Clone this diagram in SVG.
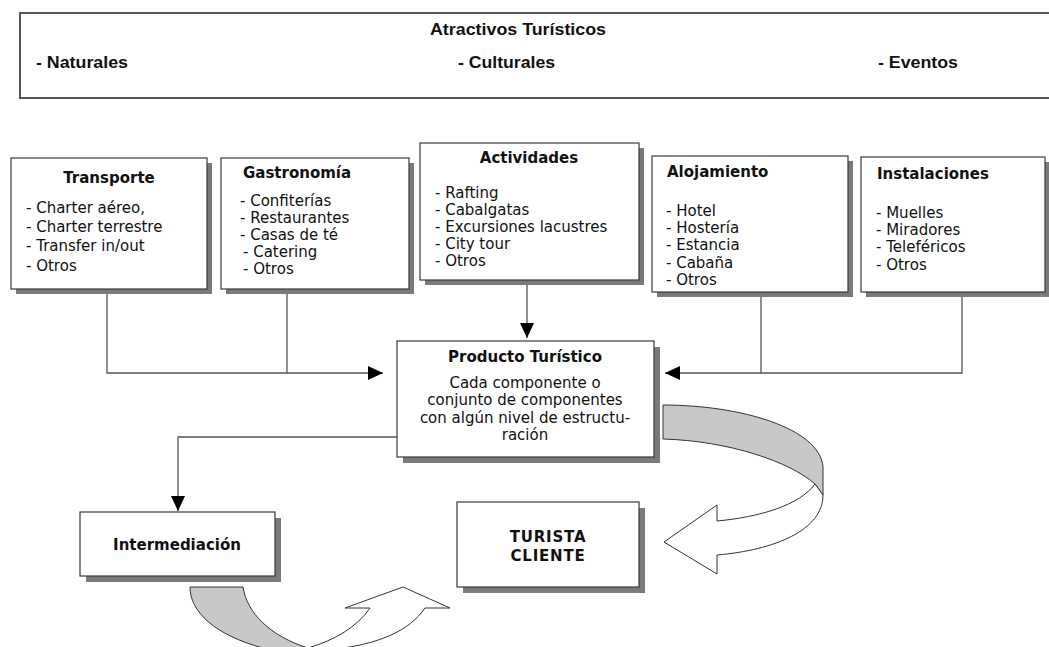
<svg xmlns="http://www.w3.org/2000/svg" width="1049" height="647" viewBox="0 0 1049 647">
<defs>
<style>
.box{fill:#fff;stroke:#3a3a3a;stroke-width:1.2}
.sh{fill:#7a7a7a}
.t{font-family:"DejaVu Sans","Liberation Sans",sans-serif;font-size:15px;fill:#111}
.b{font-weight:bold}
.top{font-family:"Liberation Sans",Arial,sans-serif;font-weight:bold;font-size:16px;fill:#111}
.ln{fill:none;stroke:#555;stroke-width:1.3}
.rib{stroke:#333;stroke-width:1}
</style>
<marker id="ah" markerUnits="userSpaceOnUse" markerWidth="16" markerHeight="14" refX="15" refY="7" orient="auto">
<path d="M0,0 L15,7 L0,14 Z" fill="#000"/>
</marker>
</defs>
<rect width="1049" height="647" fill="#fff"/>

<g id="atractivos">
<rect x="20" y="13" width="1040" height="85" fill="#fff" stroke="#555" stroke-width="2"/>
<text class="top" x="518" y="35" text-anchor="middle" textLength="176" lengthAdjust="spacingAndGlyphs">Atractivos Turísticos</text>
<text class="top" x="36" y="68" textLength="92" lengthAdjust="spacingAndGlyphs">- Naturales</text>
<text class="top" x="458" y="68" textLength="97" lengthAdjust="spacingAndGlyphs">- Culturales</text>
<text class="top" x="878" y="68" textLength="80" lengthAdjust="spacingAndGlyphs">- Eventos</text>
</g>

<g id="transporte">
<rect class="sh" x="16" y="163" width="196" height="131"/>
<rect class="box" x="11" y="158" width="196" height="131"/>
<text class="t b" x="109" y="183" text-anchor="middle">Transporte</text>
<text class="t" x="26" y="213">- Charter aéreo,</text>
<text class="t" x="26" y="232">- Charter terrestre</text>
<text class="t" x="26" y="251">- Transfer in/out</text>
<text class="t" x="26" y="271">- Otros</text>
</g>

<g id="gastronomia">
<rect class="sh" x="226" y="163" width="188" height="131"/>
<rect class="box" x="221" y="158" width="188" height="131"/>
<text class="t b" x="243" y="178">Gastronomía</text>
<text class="t" x="240" y="206">- Confiterías</text>
<text class="t" x="240" y="223">- Restaurantes</text>
<text class="t" x="240" y="240">- Casas de té</text>
<text class="t" x="243" y="257">- Catering</text>
<text class="t" x="243" y="274">- Otros</text>
</g>

<g id="actividades">
<rect class="sh" x="425" y="148" width="219" height="137"/>
<rect class="box" x="420" y="143" width="219" height="137"/>
<text class="t b" x="529" y="163" text-anchor="middle">Actividades</text>
<text class="t" x="435" y="198">- Rafting</text>
<text class="t" x="435" y="215">- Cabalgatas</text>
<text class="t" x="435" y="232">- Excursiones lacustres</text>
<text class="t" x="435" y="249">- City tour</text>
<text class="t" x="435" y="266">- Otros</text>
</g>

<g id="alojamiento">
<rect class="sh" x="657" y="161" width="196" height="136"/>
<rect class="box" x="652" y="156" width="196" height="136"/>
<text class="t b" x="667" y="177">Alojamiento</text>
<text class="t" x="666" y="216">- Hotel</text>
<text class="t" x="666" y="233">- Hostería</text>
<text class="t" x="666" y="250">- Estancia</text>
<text class="t" x="666" y="268">- Cabaña</text>
<text class="t" x="666" y="285">- Otros</text>
</g>

<g id="instalaciones">
<rect class="sh" x="866" y="162" width="184" height="135"/>
<rect class="box" x="861" y="157" width="184" height="135"/>
<text class="t b" x="877" y="179">Instalaciones</text>
<text class="t" x="876" y="218">- Muelles</text>
<text class="t" x="876" y="235">- Miradores</text>
<text class="t" x="876" y="252">- Teleféricos</text>
<text class="t" x="876" y="270">- Otros</text>
</g>

<g id="producto">
<rect class="sh" x="403" y="347" width="257" height="116"/>
<rect class="box" x="397" y="341" width="257" height="116"/>
<text class="t b" x="525" y="362" text-anchor="middle">Producto Turístico</text>
<text class="t" x="525" y="388" text-anchor="middle">Cada componente o</text>
<text class="t" x="525" y="405" text-anchor="middle">conjunto de componentes</text>
<text class="t" x="525" y="423" text-anchor="middle">con algún nivel de estructu-</text>
<text class="t" x="525" y="440" text-anchor="middle">ración</text>
</g>

<g id="intermediacion">
<rect class="sh" x="86" y="518" width="195" height="64"/>
<rect class="box" x="80" y="512" width="195" height="64"/>
<text class="t b" x="177" y="550" text-anchor="middle" font-size="14.5">Intermediación</text>
</g>

<g id="turista">
<rect class="sh" x="463" y="508" width="182" height="85"/>
<rect class="box" x="457" y="502" width="182" height="85"/>
<text class="t b" x="548" y="542" text-anchor="middle" font-size="14" letter-spacing="0.8">TURISTA</text>
<text class="t b" x="548" y="561" text-anchor="middle" font-size="14" letter-spacing="0.8">CLIENTE</text>
</g>

<g id="connectors">
<path class="ln" d="M107,294 L107,373 L383,373" marker-end="url(#ah)"/>
<path class="ln" d="M287,294 L287,373"/>
<path class="ln" d="M527,285 L527,338" marker-end="url(#ah)"/>
<path class="ln" d="M761,297 L761,373"/>
<path class="ln" d="M962,297 L962,373 L665,373" marker-end="url(#ah)"/>
<path class="ln" d="M397,437 L178,437 L178,511" marker-end="url(#ah)"/>
<path class="rib" fill="#c8c8c8" d="M663,405 C740,405 820,428 823,467 L823,495 L815,484 C790,462 730,441 663,439 Z"/>
<path class="rib" fill="#fff" d="M815,484 C800,505 760,517 717,521 L717,505 L664,542 L717,574 L717,555 C775,550 823,530 823,495 Z"/>
<path class="rib" fill="#c8c8c8" d="M190,587 L243,587 C247,613 270,636 308,648 L308,660 L263,660 L263,648 C215,635 190,612 190,587 Z"/>
<path class="rib" fill="#fff" d="M308,648 C335,640 357,627 370,608 L345,608 L403,587 L450,608 L425,608 C410,630 380,645 327,650 L327,660 L308,660 Z"/>
</g>
</svg>
